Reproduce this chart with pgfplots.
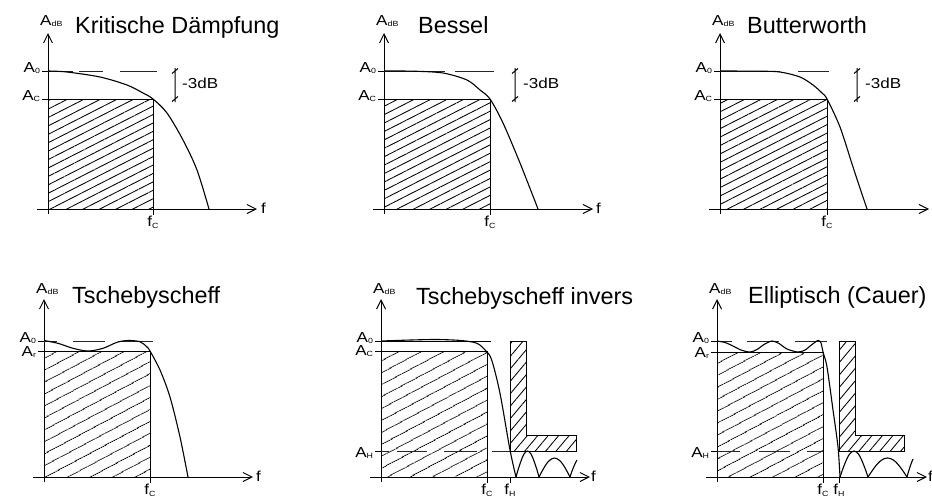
\documentclass[border=0pt]{standalone}
\usepackage{fontspec}
\setmainfont{Liberation Sans}
\usepackage{pgfplots}
\pgfplotsset{compat=1.18}
\usetikzlibrary{arrows.meta,patterns.meta}

\newcommand\sub[1]{\raisebox{-1.7bp}{\fontsize{7.5}{9}\selectfont #1}}
\newcommand\lbl{\fontsize{14.5}{17}\selectfont}
\newcommand\ttl{\fontsize{23.5}{26}\selectfont}
% y tick label, lowered by #1 below its line
\newcommand\yl[2]{\raisebox{-#1bp}{A\sub{#2}}}

\tikzset{lab/.style={anchor=base west, inner sep=0, xscale=1.18, font=\lbl}}

\pgfplotsset{
  panel/.style={
    x=1bp, y=1bp, anchor=origin, clip=false,
    xmin=-11, xmax=209, ymin=-5, ymax=176,
    axis lines=middle,
    axis line style={line width=1bp},
    every inner x axis line/.append style={-{Straight Barb[length=9bp,width=9bp]}},
    every inner y axis line/.append style={-{Straight Barb[length=9bp,width=9bp]}},
    tick align=outside, major tick length=6bp,
    tick style={black, line width=1bp},
    tick label style={font=\lbl, xscale=1.18},
    xticklabel style={inner sep=1bp},
    yticklabel style={anchor=base east, inner sep=1.5bp},
  },
  curve/.style={black, line width=1.1bp, smooth, tension=0.5},
  lobe/.style={black, line width=1.1bp, smooth, tension=0.6},
  ref/.style={black!85, line width=0.9bp, unbounded coords=jump},
  thin/.style={black, line width=1bp, unbounded coords=jump},
  pass/.style={draw=black, line width=1bp,
    pattern={Lines[angle=27,distance=7.5bp,line width=0.85bp]}},
  pass2/.style={draw=black, line width=1bp,
    pattern={Lines[angle=28,distance=10bp,line width=0.85bp]}},
  stop/.style={draw=black, line width=1bp,
    pattern={Lines[angle=50,distance=8bp,line width=0.85bp]}},
}

\begin{document}
\begin{tikzpicture}
\useasboundingbox (0,0) rectangle (932bp,-504bp);

% Kritische Daempfung
\begin{axis}[panel, at={(48bp,-209bp)},
  xtick={105}, xticklabels={f\sub{C}},
  ytick={110,138}, yticklabels={\yl{1}{C},\yl{1}{0}}]
\addplot[pass] coordinates {(0,0) (0,110) (105,110) (105,0)} -- cycle;
\addplot[ref] coordinates {(0,138) (25,138) (25,nan) (31,138) (55,138) (55,nan) (72,138) (109,138)};
\addplot[curve] coordinates {(0,138) (19,137) (52,132) (79,124) (95,116) (105,110) (119,96) (135,69) (149,39) (161,0)};
\addplot[thin] coordinates {(127,141) (127,107) (127,nan) (124,135.5) (130,140.5) (130,nan) (124,107.5) (130,112.5)};
\node[lab] at (axis cs:134,121) {-3dB};
\node[lab] at (axis cs:-8,184) {A\sub{dB}};
\node[anchor=base west, inner sep=0] at (axis cs:27,176) {\ttl Kritische Dämpfung};
\node[lab] at (axis cs:213,-4) {f};
\end{axis}

% Bessel
\begin{axis}[panel, at={(384bp,-209bp)},
  xtick={106}, xticklabels={f\sub{C}},
  ytick={110,138}, yticklabels={\yl{1}{C},\yl{1}{0}}]
\addplot[pass] coordinates {(0,0) (0,110) (106,110) (106,0)} -- cycle;
\addplot[ref] coordinates {(0,138) (61,138) (61,nan) (71,138) (110,138)};
\addplot[curve] coordinates {(0,138) (30,137.8) (59,136) (83,129) (96,119) (106,110) (119,86) (136,46) (154,0)};
\addplot[thin] coordinates {(131,141) (131,107) (131,nan) (128,135.5) (134,140.5) (134,nan) (128,107.5) (134,112.5)};
\node[lab] at (axis cs:139,121) {-3dB};
\node[lab] at (axis cs:-8,184) {A\sub{dB}};
\node[anchor=base west, inner sep=0] at (axis cs:34,176) {\ttl Bessel};
\node[lab] at (axis cs:212,-4) {f};
\end{axis}

% Butterworth
\begin{axis}[panel, at={(720bp,-209bp)},
  xtick={107}, xticklabels={f\sub{C}},
  ytick={110,138}, yticklabels={\yl{1}{C},\yl{1}{0}}]
\addplot[pass] coordinates {(0,0) (0,110) (107,110) (107,0)} -- cycle;
\addplot[ref] coordinates {(0,138) (60,138) (60,nan) (78,138) (109,138)};
\addplot[curve] coordinates {(0,138) (40,137.8) (60,137) (80,132) (93,124) (102,116) (107,110) (120,82) (133,42) (147,0)};
\addplot[thin] coordinates {(137,141) (137,107) (137,nan) (134,135.5) (140,140.5) (140,nan) (134,107.5) (140,112.5)};
\node[lab] at (axis cs:145,121) {-3dB};
\node[lab] at (axis cs:-8,184) {A\sub{dB}};
\node[anchor=base west, inner sep=0] at (axis cs:27,176) {\ttl Butterworth};
\end{axis}

% Tschebyscheff
\begin{axis}[panel, at={(44bp,-477bp)}, ymax=178,
  xtick={106}, xticklabels={f\sub{C}},
  ytick={126,136}, yticklabels={\yl{5}{r},\yl{1}{0}}]
\addplot[pass2] coordinates {(0,0) (0,126) (106,126) (106,0)} -- cycle;
\addplot[ref] coordinates {(0,136) (13,136) (13,nan) (29,136) (61,136) (61,nan) (74,136) (109,136)};
\addplot[curve] coordinates {(0,136.5) (14,133.7) (29,128.7) (44,126) (59,128.7) (73,134.7) (84,136.5) (96,135.3) (102.7,130.3) (106,126) (116,107) (126,80) (136,40) (144,0)};
\node[lab] at (axis cs:-8,184) {A\sub{dB}};
\node[anchor=base west, inner sep=0] at (axis cs:28,174) {\ttl Tschebyscheff};
\node[lab] at (axis cs:212,-4) {f};
\end{axis}

% Tschebyscheff invers
\begin{axis}[panel, at={(381bp,-477bp)}, ymax=178,
  xtick={106,129}, xticklabels={f\sub{C},f\sub{H}},
  ytick={26,126,136}, yticklabels={\yl{6}{H},\yl{4}{C},\yl{1}{0}}]
\addplot[pass2] coordinates {(0,0) (0,126) (106,126) (106,0)} -- cycle;
\addplot[stop] coordinates {(129,26) (129,136) (145,136) (145,42) (195,42) (195,26)} -- cycle;
\addplot[thin] coordinates {(0,136) (110,136)};
\addplot[ref] coordinates {(0,26) (8,26) (8,nan) (16,26) (46,26) (46,nan) (63,26) (96,26) (96,nan) (111,26) (129,26)};
\addplot[curve] coordinates {(0,136) (30,137) (56,137.5) (80,136.5) (96,133.7) (105,126) (110.7,117) (119,83.7) (129,27) (135,0)};
\addplot[lobe] coordinates {(135,0) (137,7) (140,16) (143,23) (146.5,26) (150,23) (153,16) (156,7) (158,0)};
\addplot[lobe] coordinates {(158,0) (161,5.7) (165,12.5) (169,17) (173.5,19) (178,17) (182,12.5) (186,5.7) (189,0)};
\addplot[lobe] coordinates {(189,0) (191,6) (193,11) (196,17)};
\node[lab] at (axis cs:-8,184) {A\sub{dB}};
\node[anchor=base west, inner sep=0] at (axis cs:35,173) {\ttl Tschebyscheff invers};
\node[lab] at (axis cs:210,-4) {f};
\end{axis}

% Elliptisch (Cauer)
\begin{axis}[panel, at={(717bp,-477bp)}, ymax=178, xmax=210,
  xtick={106,122}, xticklabels={f\sub{C},f\sub{H}},
  ytick={26,125,136}, yticklabels={\yl{6}{H},\yl{5}{r},\yl{1}{0}}]
\addplot[pass2] coordinates {(0,0) (0,125) (106,125) (106,0)} -- cycle;
\addplot[stop] coordinates {(122,26) (122,136) (138,136) (138,42) (187,42) (187,26)} -- cycle;
\addplot[ref] coordinates {(0,136) (15,136) (15,nan) (30,136) (62,136) (62,nan) (78,136) (110,136)};
\addplot[ref] coordinates {(0,26) (23,26) (23,nan) (42,26) (73,26) (73,nan) (90,26) (106,26)};
\addplot[curve] coordinates {(0,136) (8,134.5) (16,131) (24,127) (33,125) (40,127.5) (47,132.5) (55,136) (62,133.5) (70,128) (81,125) (88,127) (95,132.5) (101,136.5) (104,134) (106,125) (110,110) (116,67) (121,30) (123,0)};
\addplot[lobe] coordinates {(123,0) (126,8.6) (130,18.4) (133,23.5) (137,26) (141,23.5) (144,18.4) (148,8.6) (151,0)};
\addplot[lobe] coordinates {(151,0) (155,6) (160,12.7) (165,17.2) (170.5,19) (176,17.2) (181,12.7) (186,6) (190,0)};
\addplot[lobe] coordinates {(190,0) (192,7) (194,13) (196,18)};
\node[lab] at (axis cs:-8,184) {A\sub{dB}};
\node[anchor=base west, inner sep=0] at (axis cs:31,174) {\ttl Elliptisch (Cauer)};
\node[lab] at (axis cs:211,-4) {f};
\end{axis}
\end{tikzpicture}
\end{document}
